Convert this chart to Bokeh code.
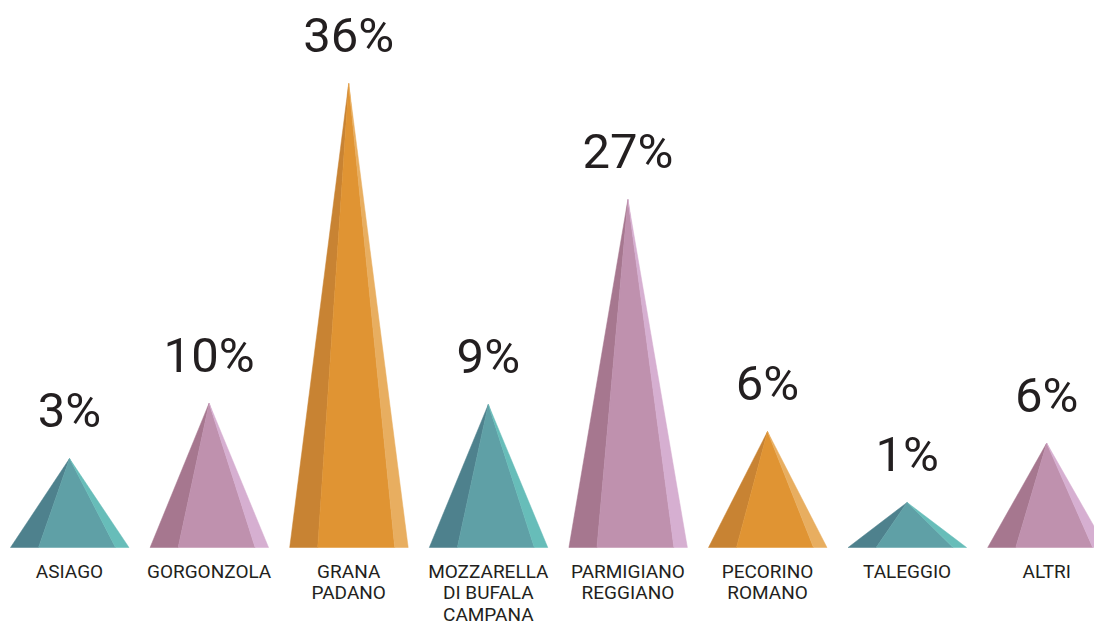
from bokeh.plotting import figure
from bokeh.models import Range1d, ColumnDataSource
from bokeh.core.properties import value
from bokeh.embed import file_html
from bokeh.resources import INLINE

# ---- data ----
categories = ["ASIAGO", "GORGONZOLA", "GRANA\nPADANO", "MOZZARELLA\nDI BUFALA\nCAMPANA",
              "PARMIGIANO\nREGGIANO", "PECORINO\nROMANO", "TALEGGIO", "ALTRI"]
shares = [3, 10, 36, 9, 27, 6, 1, 6]                       # printed percentages
pyramid_heights = [6.9, 11.2, 36.0, 11.1, 27.0, 9.0, 3.5, 8.1]  # drawn heights (pct units)
families = ["teal", "pink", "orange", "teal", "pink", "orange", "teal", "pink"]

palette = {
    "teal":   ("#4e818d", "#5fa0a6", "#67bdb9"),
    "pink":   ("#a6778f", "#bf91ae", "#d6afd1"),
    "orange": ("#c88333", "#e09433", "#e8ae60"),
}

# geometry of a pyramid relative to its centre (category units)
LEFT, SPLIT1, SPLIT2, RIGHT = -0.4226, -0.222, 0.3295, 0.426

W, H = 1094, 628
p = figure(width=W, height=H, output_backend="svg", toolbar_location=None,
           x_range=Range1d(-0.4943, 7.3424), y_range=Range1d(-6.284, 42.44),
           min_border=0, outline_line_color=None, background_fill_color="white",
           border_fill_color="white")
p.axis.visible = False
p.xgrid.visible = False
p.ygrid.visible = False

xs, ys, colors = [], [], []
for i, (h, fam) in enumerate(zip(pyramid_heights, families)):
    c_left, c_mid, c_right = palette[fam]
    for (a, b), col in zip([(LEFT, SPLIT1), (SPLIT1, SPLIT2), (SPLIT2, RIGHT)],
                           [c_left, c_mid, c_right]):
        xs.append([i + a, i + b, i])
        ys.append([0, 0, h])
        colors.append(col)
p.patches(xs=xs, ys=ys, fill_color=colors, line_color=colors, line_width=0.5)

idx = list(range(len(categories)))
pct_src = ColumnDataSource(dict(x=idx, y=pyramid_heights, t=[f"{s}%" for s in shares]))
p.text(x="x", y="y", text="t", source=pct_src, text_font=value("Roboto"),
       text_font_size="49px", text_color="#231f20", text_align="center",
       text_baseline="alphabetic", y_offset=-48)

cat_src = ColumnDataSource(dict(x=idx, y=[0] * len(idx), t=categories))
p.text(x="x", y="y", text="t", source=cat_src, text_font=value("Roboto"),
       text_font_size="19px", text_color="#231f20", text_align="center",
       text_baseline="top", y_offset=12, text_line_height=0.95)

html = file_html(p, INLINE)
html = html.replace("<head>", "<head><style>html,body{margin:0;padding:0;overflow:hidden;}</style>", 1)
open("out.html", "w").write(html)
